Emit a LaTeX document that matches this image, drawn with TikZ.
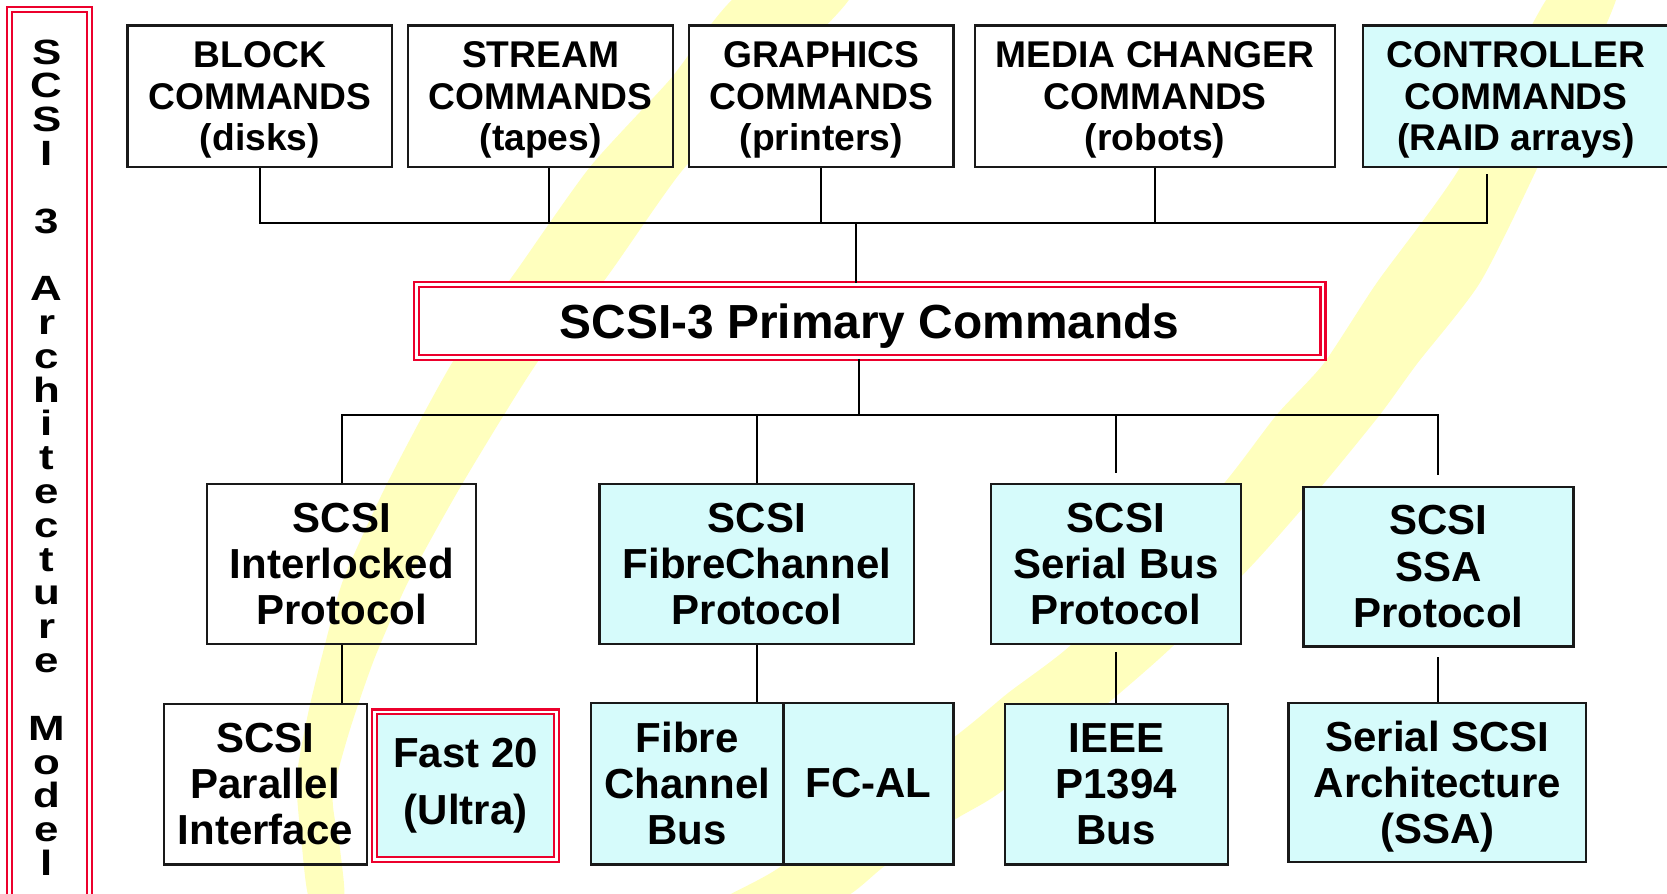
\documentclass[tikz,border=0pt]{standalone}
\usepackage{fontspec}
\setmainfont{Liberation Sans}
\newfontfamily\sidefont{Liberation Sans}[FakeStretch=1.25]
\usetikzlibrary{calc}

\definecolor{bandyellow}{RGB}{255,255,190}
\definecolor{hatchcyan}{RGB}{214,251,251}
\definecolor{framered}{RGB}{236,0,44}
\definecolor{boxline}{RGB}{25,25,25}

\begin{document}
\begin{tikzpicture}[x=1pt,y=-1pt,
  box/.style={draw=boxline, line width=2.2pt, inner sep=0pt, align=center,
    font=\bfseries\fontsize{39.5}{43.5}\selectfont},
  topbox/.style={box, minimum height=133pt, text depth=0pt,
    font=\bfseries\fontsize{35}{39}\selectfont},
  midbox/.style={box, minimum height=151pt},
  cyanbox/.style={fill=hatchcyan},
  whitebox/.style={fill=white},
  redframe/.style={draw=framered, line width=2.3pt, double=white,
    double distance=2.4pt, inner sep=0pt, align=center},
  wire/.style={draw=black, line width=1.8pt},
]
\useasboundingbox (0,0) rectangle (1568,840);

% two broad yellow brush strokes behind the chart
\fill[bandyellow] plot[smooth cycle, tension=0.4] coordinates {
  (802,-8) (720,80) (642,160) (569,263) (506,340) (436,453) (385,545)
  (352,620) (328,690) (313,750) (320,800) (323,848) (292,848) (284,796)
  (279,733) (290,670) (306,605) (323,545) (365,453) (426,340) (489,250)
  (555,157) (630,75) (699,-8)};
\fill[bandyellow] plot[smooth cycle, tension=0.4] coordinates {
  (1522,-8) (1446,158) (1392,266) (1333,342) (1298,390) (1245,455)
  (1182,527) (1104,607) (1045,659) (944,743) (898,771) (833,814)
  (785,848) (680,848) (736,814) (898,693) (948,652) (1007,607)
  (1080,530) (1151,455) (1201,390) (1245,342) (1295,266) (1373,158)
  (1460,-8)};

% side title
\node[redframe, minimum width=75pt, minimum height=861pt] (side) at (46.5,439.5) {};
\node[anchor=north, inner sep=0pt, align=center,
  font=\sidefont\bfseries\fontsize{33}{31.8}\selectfont] (sidetext) at (44,37)
  {S\\C\\S\\I\\[31.8pt]3\\[31.8pt]A\\r\\c\\h\\i\\t\\e\\c\\t\\u\\r\\e\\[31.8pt]M\\o\\d\\e\\l};

% command sets
\node[topbox, minimum width=249pt] (block) at (244.5,90.5) {BLOCK\\COMMANDS\\(disks)};
\node[topbox, minimum width=249pt] (stream) at (508.5,90.5) {STREAM\\COMMANDS\\(tapes)};
\node[topbox, whitebox, minimum width=249pt] (graphics) at (772.5,90.5) {GRAPHICS\\COMMANDS\\(printers)};
\node[topbox, minimum width=339pt] (media) at (1086.5,90.5) {MEDIA CHANGER\\COMMANDS\\(robots)};
\node[topbox, cyanbox, minimum width=288pt] (ctrl) at (1426,90.5) {CONTROLLER\\COMMANDS\\(RAID arrays)};

% primary commands
\node[redframe, fill=white, minimum width=853pt, minimum height=69pt, text depth=0pt,
  font=\bfseries\fontsize{45}{50}\selectfont] (primary) at (818,302) {SCSI-3 Primary Commands};

% protocols
\node[midbox, minimum width=253pt] (sip) at (321.5,530.5) {SCSI\\Interlocked\\Protocol};
\node[midbox, cyanbox, minimum width=296pt] (fcp) at (712,530.5) {SCSI\\FibreChannel\\Protocol};
\node[midbox, cyanbox, minimum width=235pt] (sbp) at (1049.5,530.5) {SCSI\\Serial Bus\\Protocol};
\node[midbox, cyanbox, minimum width=254pt, minimum height=150pt] (ssap) at (1353,533) {SCSI\\SSA\\Protocol};

% interconnects
\node[midbox, minimum width=191pt] (spi) at (249.5,737.5) {SCSI\\Parallel\\Interface};
\node[redframe, cyanbox, minimum width=171pt, minimum height=139pt,
  font=\bfseries\fontsize{39.5}{43.5}\selectfont] (fast) at (438,739) {Fast 20\\[9.5pt](Ultra)};
\node[midbox, cyanbox, minimum width=181pt, minimum height=152pt] (fcbus) at (646.5,737) {Fibre\\Channel\\Bus};
\node[midbox, cyanbox, minimum width=160pt, minimum height=152pt] (fcal) at (817,737) {FC-AL};
\node[midbox, cyanbox, minimum width=210pt] (ieee) at (1050,737.5) {IEEE\\P1394\\Bus};
\node[midbox, cyanbox, minimum width=280pt, minimum height=150pt, text depth=0pt] (ssa) at (1352,736) {Serial SCSI\\Architecture\\(SSA)};

% connectors
\coordinate (busA) at (805,210);
\coordinate (busB) at (808,390);
\coordinate (sdrop) at ([xshift=7.5pt]stream.south);
\coordinate (cdrop) at ([xshift=-27pt,yshift=-6pt]ctrl.south);
\draw[wire] (block.south) |- (busA) -| (cdrop);
\draw[wire] (sdrop) -- (sdrop |- busA);
\draw[wire] (graphics.south) -- (graphics.south |- busA);
\draw[wire] (media.south) -- (media.south |- busA);
\draw[wire] (busA) -- (busA |- primary.north);

\coordinate (ssatop) at ([yshift=10pt]ssap.north);
\coordinate (sbtop) at ([yshift=9pt]sbp.north);
\draw[wire] (busB |- primary.south) -- (busB);
\draw[wire] (sip.north) |- (busB) -| (ssatop);
\draw[wire] (fcp.north) -- (fcp.north |- busB);
\draw[wire] (busB -| sbtop) -- (sbtop);

\coordinate (sbbot) at ([yshift=-6pt]sbp.south);
\coordinate (ssabot) at ([yshift=-9pt]ssap.south);
\draw[wire] (sip.south) -- (sip.south |- spi.north);
\draw[wire] (fcp.south) -- (fcp.south |- fcbus.north);
\draw[wire] (sbbot) -- (sbbot |- ieee.north);
\draw[wire] (ssabot) -- (ssabot |- ssa.north);
\end{tikzpicture}
\end{document}
